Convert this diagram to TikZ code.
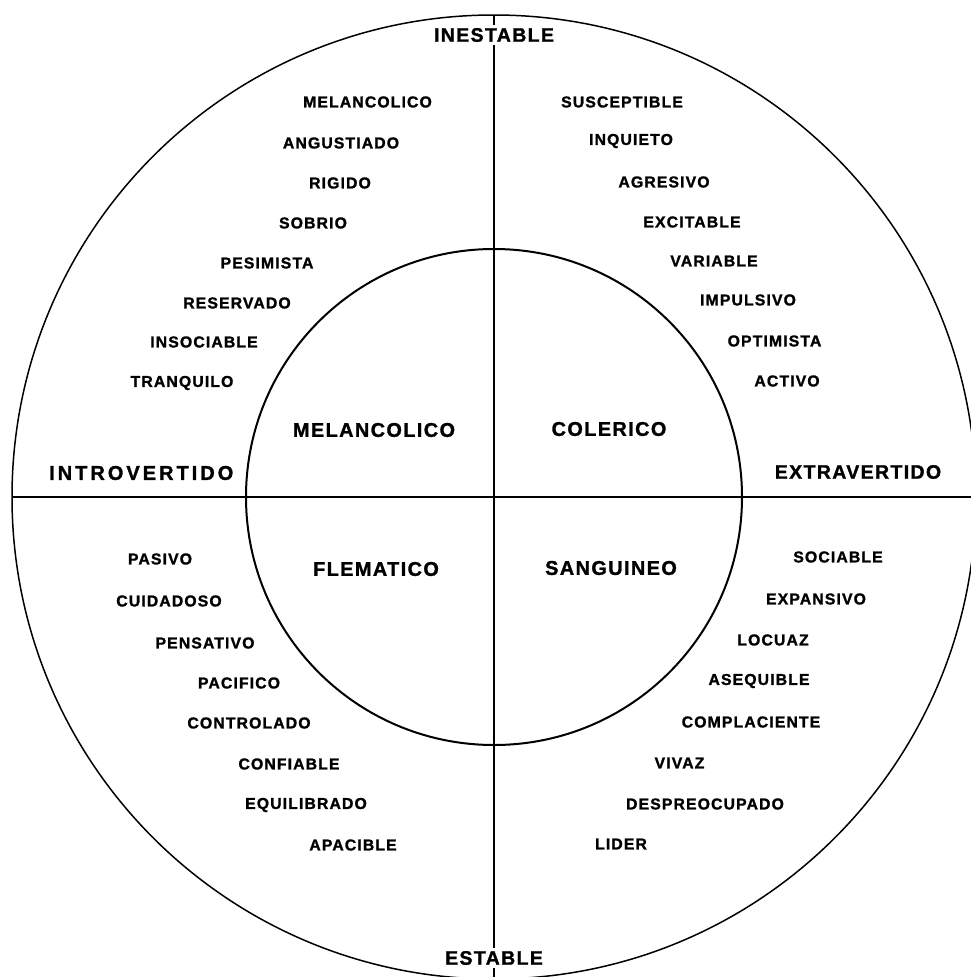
\documentclass[tikz,border=0pt]{standalone}
\usepackage{fontspec}
\setmainfont{Liberation Sans}
\newfontfamily\spacedfont[LetterSpace=7,FakeBold=1.3]{Liberation Sans Bold}
\newfontfamily\widefont[LetterSpace=15,FakeBold=1.3]{Liberation Sans Bold}
\begin{document}
\begin{tikzpicture}[x=1pt,y=-1pt,
		trait/.style={font=\spacedfont\fontsize{15.8}{18}\selectfont, inner sep=0pt},
		temper/.style={font=\spacedfont\fontsize{19.9}{22}\selectfont, inner sep=0pt},
		pole/.style={font=\spacedfont\fontsize{19.5}{22}\selectfont, inner sep=3pt}]
			\useasboundingbox (0,0) rectangle (970,977);
			\coordinate (c) at (494,497);
			\coordinate (top) at (494,15);
			\coordinate (bot) at (494,979);
			\coordinate (lft) at (12,497);
			\coordinate (rgt) at (976,497);
			\draw[line width=1.5pt] (c) circle[radius=482pt];
			\draw[line width=2pt] (c) circle[radius=248pt];
			% ejes
			\node[pole] (inest) at (494,35) {INESTABLE};
			\node[pole] (est) at (494,958) {ESTABLE};
			\node[pole, font=\widefont\fontsize{20}{22}\selectfont, anchor=west, inner sep=0pt] (intro) at (49,473) {INTROVERTIDO};
			\node[pole] (extra) at (858,472) {EXTRAVERTIDO};
			\draw[line width=1.8pt] (top) -- (inest);
			\draw[line width=1.8pt] (inest) -- (est);
			\draw[line width=1.8pt] (est) -- (bot);
			\draw[line width=1.8pt] (lft) -- (rgt);
			% temperamentos
			\node[temper] (mel) at (374,430) {MELANCOLICO};
			\node[temper] (col) at (609,429) {COLERICO};
			\node[temper] (fle) at (376,569) {FLEMATICO};
			\node[temper] (san) at (611,568) {SANGUINEO};
			% inestable - introvertido
			\node[trait] (mel1) at (367.5,102) {MELANCOLICO};
			\node[trait] (mel2) at (341,143) {ANGUSTIADO};
			\node[trait] (mel3) at (340,183) {RIGIDO};
			\node[trait] (mel4) at (313,223) {SOBRIO};
			\node[trait] (mel5) at (267,263) {PESIMISTA};
			\node[trait] (mel6) at (237,303) {RESERVADO};
			\node[trait] (mel7) at (204,342) {INSOCIABLE};
			\node[trait] (mel8) at (182,383) {TRANQUILO};
			% inestable - extravertido
			\node[trait] (col1) at (622,102) {SUSCEPTIBLE};
			\node[trait] (col2) at (631,141) {INQUIETO};
			\node[trait] (col3) at (664,182) {AGRESIVO};
			\node[trait] (col4) at (692,222) {EXCITABLE};
			\node[trait] (col5) at (714,261) {VARIABLE};
			\node[trait] (col6) at (748,300) {IMPULSIVO};
			\node[trait] (col7) at (774.5,341) {OPTIMISTA};
			\node[trait] (col8) at (787,381) {ACTIVO};
			% estable - introvertido
			\node[trait] (fle1) at (160,559) {PASIVO};
			\node[trait] (fle2) at (169,601) {CUIDADOSO};
			\node[trait] (fle3) at (205,643) {PENSATIVO};
			\node[trait] (fle4) at (239,683) {PACIFICO};
			\node[trait] (fle5) at (249,723) {CONTROLADO};
			\node[trait] (fle6) at (289,764) {CONFIABLE};
			\node[trait] (fle7) at (306,805) {EQUILIBRADO};
			\node[trait] (fle8) at (353,845) {APACIBLE};
			% estable - extravertido
			\node[trait] (san1) at (838,557) {SOCIABLE};
			\node[trait] (san2) at (816,599) {EXPANSIVO};
			\node[trait] (san3) at (773,640) {LOCUAZ};
			\node[trait] (san4) at (759,681) {ASEQUIBLE};
			\node[trait] (san5) at (751,722) {COMPLACIENTE};
			\node[trait] (san6) at (679.5,763) {VIVAZ};
			\node[trait] (san7) at (705,804) {DESPREOCUPADO};
			\node[trait] (san8) at (621,844) {LIDER};
		\end{tikzpicture}
\end{document}
